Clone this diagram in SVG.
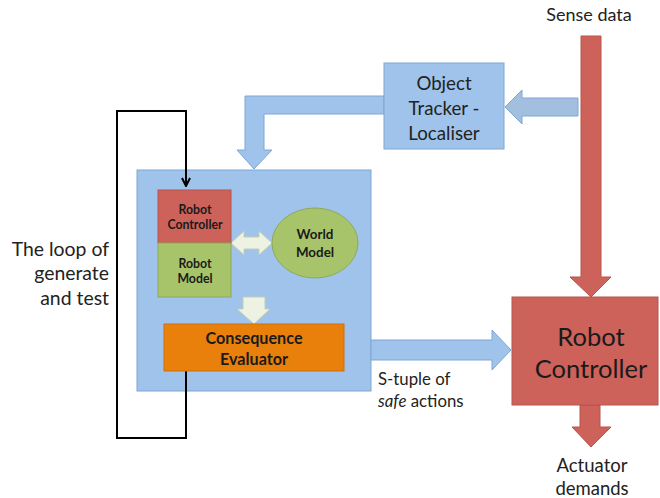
<svg xmlns="http://www.w3.org/2000/svg" width="660" height="498" viewBox="0 0 660 498">
<style>
text{font-family:Lato,"Open Sans","Liberation Sans",sans-serif;fill:#1a1a1a}
.blue{fill:#9fc3ea;stroke:#7ea6d5;stroke-width:1}
.red{fill:#cd625a;stroke:#b8544d;stroke-width:1}
.green{fill:#a8c46a;stroke:#8fa95a;stroke-width:1}
.orange{fill:#ea800c;stroke:#cf700a;stroke-width:1}
.cream{fill:#eef2e2;stroke:#c4cfae;stroke-width:1}
.loop{fill:none;stroke:#000;stroke-width:2}
.lbl{fill:#222}
.sm{font-size:12.3px;font-weight:bold;text-anchor:middle}
</style>
<defs>
<marker id="ah" viewBox="0 0 10 10" refX="9" refY="5" markerWidth="5" markerHeight="5" orient="auto"><path d="M1,1 L9,5 L1,9" fill="none" stroke="#000" stroke-width="2"/></marker>
</defs>
<g id="big-box"><rect class="blue" x="137" y="170" width="234" height="221"/></g>
<g id="connectors">
<path class="red" d="M581,36 H601 V277 H611 L591,297 L570,277 H581 Z"/>
<path class="blue" style="fill:#a3bfe0" d="M578,98 V116 H522 V124 L505,107 L522,90 V98 Z"/>
<path class="blue" d="M384,96 V114 H264 V150 H272 L254,169 L237,150 H245 V96 Z"/>
<path class="blue" d="M371,340 H492 V330 L511,350 L492,370 V360 H371 Z"/>
<path class="red" d="M580,405 H600 V427 H611 L591,447 L572,427 H580 Z"/>
<path class="loop" d="M186,371 V438 H117 V111 H186 V186" marker-end="url(#ah)"/>
<path class="cream" d="M231,243 L244,231 V237 H259 V231 L272,243 L259,255 V249 H244 V255 Z"/>
<path class="cream" d="M243,297 H265 V309 H270 L254,324 L237,309 H243 Z"/>
</g>
<g id="robot-controller-small">
<rect class="red" x="158" y="190" width="73" height="53"/>
<text class="sm" x="195" y="214">Robot</text>
<text class="sm" x="195" y="229">Controller</text>
</g>
<g id="robot-model">
<rect class="green" x="158" y="243" width="73" height="54"/>
<text class="sm" x="195" y="268">Robot</text>
<text class="sm" x="195" y="283">Model</text>
</g>
<g id="world-model">
<ellipse class="green" cx="315" cy="243" rx="43" ry="35"/>
<text class="sm" x="315" y="239" style="font-size:13.4px">World</text>
<text class="sm" x="315" y="257" style="font-size:13.4px">Model</text>
</g>
<g id="consequence-evaluator">
<rect class="orange" x="164" y="324" width="180" height="47"/>
<text x="254" y="344" style="font-size:16.2px;font-weight:bold;text-anchor:middle">Consequence</text>
<text x="254" y="365" style="font-size:16.2px;font-weight:bold;text-anchor:middle">Evaluator</text>
</g>
<g id="object-tracker">
<rect class="blue" x="384" y="63" width="120" height="86"/>
<text class="lbl" x="444" y="90" text-anchor="middle" style="font-size:18.7px">Object</text>
<text class="lbl" x="444" y="115" text-anchor="middle" style="font-size:18.7px">Tracker -</text>
<text class="lbl" x="444" y="140" text-anchor="middle" style="font-size:18.7px">Localiser</text>
</g>
<g id="robot-controller">
<rect class="red" x="512" y="297" width="146" height="108"/>
<text x="591" y="346" text-anchor="middle" style="font-size:25.5px">Robot</text>
<text x="591" y="378" text-anchor="middle" style="font-size:25.5px">Controller</text>
</g>
<g id="labels">
<text class="lbl" x="589" y="21" text-anchor="middle" style="font-size:18px">Sense data</text>
<text class="lbl" x="109" y="256" text-anchor="end" style="font-size:19.4px">The loop of</text>
<text class="lbl" x="109" y="280" text-anchor="end" style="font-size:19.4px">generate</text>
<text class="lbl" x="109" y="305" text-anchor="end" style="font-size:19.4px">and test</text>
<text class="lbl" x="378" y="385" style="font-size:16.8px">S-tuple of</text>
<text class="lbl" x="378" y="407" style="font-size:16.8px"><tspan font-style="italic">safe</tspan> actions</text>
<text class="lbl" x="592" y="472" text-anchor="middle" style="font-size:18.5px">Actuator</text>
<text class="lbl" x="592" y="495" text-anchor="middle" style="font-size:18.5px">demands</text>
</g>
</svg>
